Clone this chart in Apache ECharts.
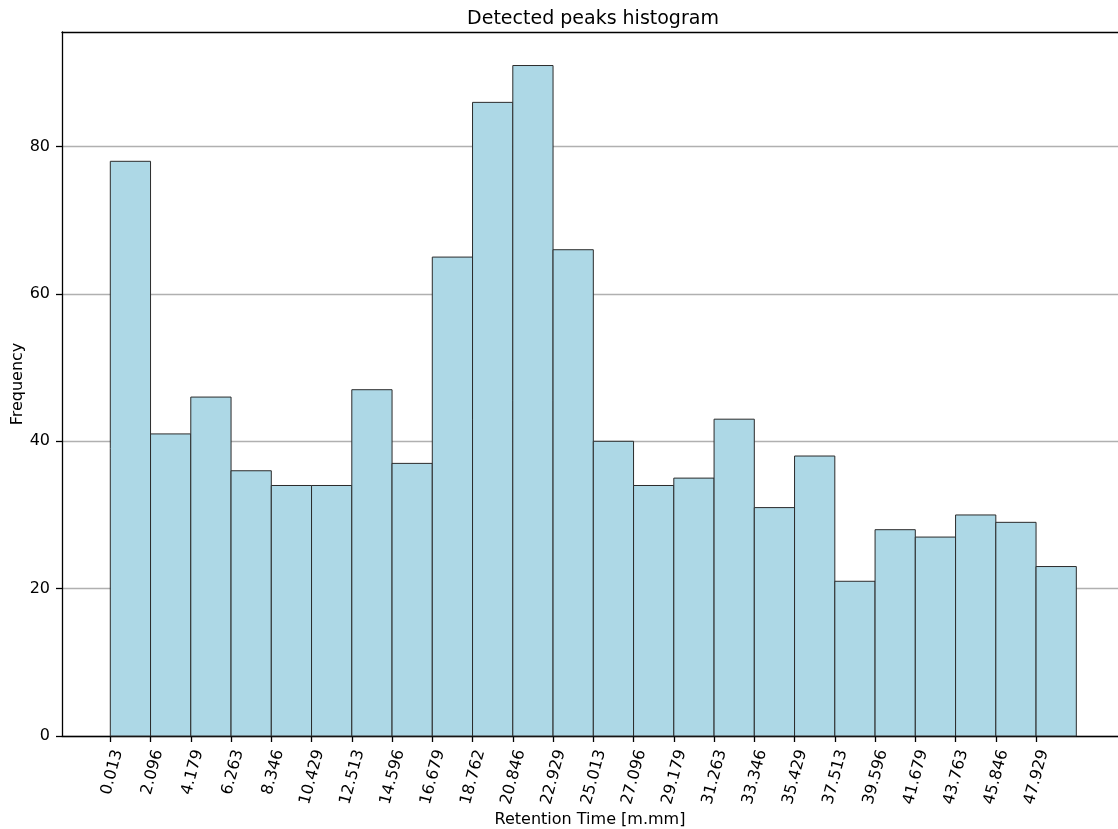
<!DOCTYPE html>
<html>
<head>
<meta charset="utf-8">
<script src="https://cdn.jsdelivr.net/npm/echarts@6/dist/echarts.min.js"></script>
<style>
  html, body { margin: 0; padding: 0; background: #fff; }
  #chart { width: 1118px; height: 829px; }
</style>
</head>
<body>
<div id="chart"></div>
<script>
// bin edges (25 edges -> 24 bins), tick labels are the first 24 edges
const binEdges = [0.013, 2.096, 4.179, 6.263, 8.346, 10.429, 12.513, 14.596, 16.679, 18.762,
  20.846, 22.929, 25.013, 27.096, 29.179, 31.263, 33.346, 35.429, 37.513, 39.596,
  41.679, 43.763, 45.846, 47.929, 50.013]
const tickLabels = ['0.013', '2.096', '4.179', '6.263', '8.346', '10.429', '12.513', '14.596',
  '16.679', '18.762', '20.846', '22.929', '25.013', '27.096', '29.179', '31.263', '33.346',
  '35.429', '37.513', '39.596', '41.679', '43.763', '45.846', '47.929']
const counts = [78, 41, 46, 36, 34, 34, 47, 37, 65, 86, 91, 66, 40, 34, 35, 43, 31, 38, 21, 28, 27, 30, 29, 23]
const yTicks = [0, 20, 40, 60, 80]

const bins = counts.map((c, i) => [binEdges[i], binEdges[i + 1], c])
const tickValues = binEdges.slice(0, tickLabels.length)

const font = 'DejaVu Sans'
let chart = echarts.init(document.getElementById('chart'))
chart.setOption({
  animation: false,
  title: {
    text: 'Detected peaks histogram',
    left: 588,
    textAlign: 'center',
    top: 5,
    textStyle: { fontFamily: font, fontSize: 19, fontWeight: 'normal', color: '#000' }
  },
  grid: {
    left: 62,
    top: 32,
    right: 0,
    bottom: 93,
    outerBoundsMode: 'none'
  },
  xAxis: [
    {
      type: 'value',
      min: -2.487,
      max: 52.17,
      name: 'Retention Time [m.mm]',
      nameLocation: 'middle',
      nameGap: 76,
      nameMoveOverlap: false,
      nameTextStyle: { fontFamily: font, fontSize: 16, color: '#000' },
      axisLine: { onZero: false, lineStyle: { color: '#000', width: 1.3 } },
      axisTick: {
        customValues: tickValues,
        length: 6,
        lineStyle: { color: '#000', width: 1.3 }
      },
      axisLabel: {
        customValues: tickValues,
        rotate: 75,
        margin: 12,
        verticalAlign: 'top',
        fontFamily: font,
        fontSize: 16,
        color: '#000',
        formatter: (v) => {
          const i = tickValues.indexOf(v)
          return i >= 0 ? tickLabels[i] : ''
        }
      },
      splitLine: { show: false }
    },
    {
      type: 'value',
      position: 'top',
      min: -2.487,
      max: 52.17,
      axisLine: { onZero: false, lineStyle: { color: '#000', width: 1.3 } },
      axisTick: { show: false },
      axisLabel: { show: false },
      splitLine: { show: false }
    }
  ],
  yAxis: {
    type: 'value',
    min: 0,
    max: 95.55,
    name: 'Frequency',
    nameLocation: 'middle',
    nameGap: 36,
    nameMoveOverlap: false,
    nameTextStyle: { fontFamily: font, fontSize: 16, color: '#000' },
    axisLine: { show: true, onZero: false, lineStyle: { color: '#000', width: 1.3 } },
    axisTick: {
      show: true,
      customValues: yTicks,
      length: 6,
      lineStyle: { color: '#000', width: 1.3 }
    },
    axisLabel: {
      customValues: yTicks,
      margin: 12,
      fontFamily: font,
      fontSize: 16,
      color: '#000'
    },
    splitLine: {
      show: true,
      lineStyle: { color: '#b0b0b0', width: 1.3 }
    }
  },
  series: [
    {
      type: 'custom',
      xAxisIndex: 0,
      encode: { x: [0, 1], y: 2 },
      data: bins,
      renderItem: (params, api) => {
        const p0 = api.coord([api.value(0), api.value(2)])
        const p1 = api.coord([api.value(1), 0])
        return {
          type: 'rect',
          shape: { x: p0[0], y: p0[1], width: p1[0] - p0[0], height: p1[1] - p0[1] },
          style: { fill: '#add8e6', stroke: '#2b2b2b', lineWidth: 1 }
        }
      }
    }
  ]
})
</script>
</body>
</html>
